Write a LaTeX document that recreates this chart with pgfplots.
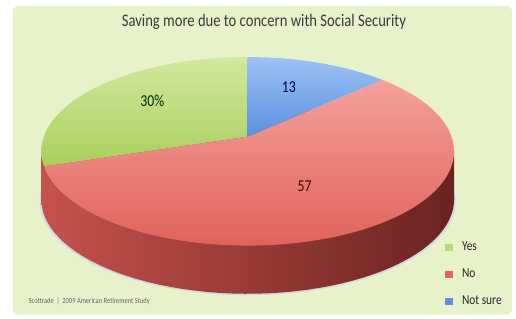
\documentclass[border=0pt]{standalone}
\usepackage{pgfplots}
\pgfplotsset{compat=1.18}
\usepackage{pgfplotstable}
\usepackage{fontspec}
\setmainfont{Carlito}
\newfontfamily\condfont[FakeStretch=0.83]{Carlito}

\definecolor{bgpanel}{HTML}{E7F2CB}
\definecolor{yesT}{HTML}{D2E89C}
\definecolor{yesB}{HTML}{A8CF5E}
\definecolor{noT}{HTML}{F4A19C}
\definecolor{noB}{HTML}{E0635B}
\definecolor{nsT}{HTML}{9CC2F4}
\definecolor{nsB}{HTML}{5A8FE0}
\definecolor{sideL}{HTML}{C6524C}
\definecolor{sideM}{HTML}{A03A35}
\definecolor{sideR}{HTML}{6A2320}
\definecolor{legYes}{HTML}{B8DA78}
\definecolor{legNo}{HTML}{E0646E}
\definecolor{legNs}{HTML}{5C90E4}
\definecolor{titlec}{HTML}{3A3A3A}

\pgfplotstableread{
label value
Yes 30
No 57
NotSure 13
}\piedata

\begin{document}
\pgfplotstablegetelem{0}{value}\of\piedata \let\vYes\pgfplotsretval
\pgfplotstablegetelem{1}{value}\of\piedata \let\vNo\pgfplotsretval
\pgfplotstablegetelem{2}{value}\of\piedata \let\vNs\pgfplotsretval
\pgfmathsetmacro{\aA}{90}
\pgfmathsetmacro{\aB}{\aA+3.6*\vYes}
\pgfmathsetmacro{\aC}{\aB+3.6*\vNo}
\pgfmathsetmacro{\aD}{\aC+3.6*\vNs}
\begin{tikzpicture}[declare function={
  px(\t)=243+207.4*cos(\t)/(1+0.156*sin(\t));
  py(\t)=139-93.6*sin(\t)/(1+0.156*sin(\t));
}]
\begin{axis}[
  x=1bp, y=1bp, xmin=0, xmax=516, ymin=0, ymax=324, y dir=reverse,
  hide axis, clip=true,
  legend style={at={(axis cs:444,244)}, anchor=north west, draw=none, fill=none,
    font=\condfont\fontsize{14}{16}\selectfont, text=black!85, row sep=13bp,
    inner sep=0pt, /tikz/every odd column/.append style={column sep=8bp}},
  legend cell align=left,
]
\fill[white] (axis cs:0,0) rectangle (axis cs:516,324);
\fill[bgpanel, rounded corners=6bp] (axis cs:4,6) rectangle (axis cs:512,320);

% soft shadow
\addplot[forget plot, draw=none, fill=black!25!blue!20, opacity=0.7, domain=0:360, samples=120, variable=\t]
  ({243+1.008*(px(\t)-243)},{py(\t)+50.5}) -- cycle;
% side wall
\addplot[forget plot, draw=none, left color=sideL, middle color=sideM, right color=sideR, domain=0:360, samples=120, variable=\t]
  ({px(\t)},{py(\t)+49}) -- cycle;
\addplot[forget plot, draw=none, left color=sideL, middle color=sideM, right color=sideR]
  coordinates {(33.0,154) (453.0,154) (453.0,203) (33.0,203)} -- cycle;

% top wedges
\addplot[forget plot, draw=none, top color=yesT, bottom color=yesB, domain=\aA:\aB, samples=60, variable=\t]
  ({px(\t)},{py(\t)}) -- (axis cs:243,139) -- cycle;
\addplot[forget plot, draw=none, top color=noT, bottom color=noB, domain=\aB:\aC, samples=100, variable=\t]
  ({px(\t)},{py(\t)}) -- (axis cs:243,139) -- cycle;
\addplot[forget plot, draw=none, top color=nsT, bottom color=nsB, domain=\aC:\aD, samples=40, variable=\t]
  ({px(\t)},{py(\t)}) -- (axis cs:243,139) -- cycle;

% labels
\node[font=\condfont\fontsize{17}{19}\selectfont, text=black!60!green!40!black] at (axis cs:146,103) {30\%};
\node[font=\condfont\fontsize{17}{19}\selectfont, text=blue!30!black] at (axis cs:285,89) {13};
\node[font=\condfont\fontsize{17}{19}\selectfont, text=red!30!black] at (axis cs:301,189) {57};

% title and footer
\node[anchor=base, font=\condfont\fontsize{18}{20}\selectfont, text=titlec] at (axis cs:259.5,27) {Saving more due to concern with Social Security};
\node[anchor=base west, inner sep=0pt, font=\condfont\fontsize{8}{9}\selectfont, text=black!60] at (axis cs:20,308.5) {Scottrade \,|\, 2009 American Retirement Study};

\addlegendimage{legend image code/.code={\fill[legYes] (0bp,-3.2bp) rectangle (6.5bp,3.2bp);}}
\addlegendentry{Yes}
\addlegendimage{legend image code/.code={\fill[legNo] (0bp,-3.2bp) rectangle (6.5bp,3.2bp);}}
\addlegendentry{No}
\addlegendimage{legend image code/.code={\fill[legNs] (0bp,-3.2bp) rectangle (6.5bp,3.2bp);}}
\addlegendentry{Not sure}
\end{axis}
\end{tikzpicture}
\end{document}
